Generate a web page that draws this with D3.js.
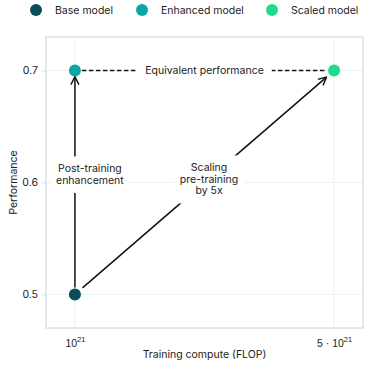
<!DOCTYPE html>
<html>
<head>
<meta charset="utf-8">
<script src="https://cdn.jsdelivr.net/npm/d3@7"></script>
<style>
  body { margin: 0; background: #fff; }
  svg { font-family: Inter, "Noto Sans", sans-serif; }
</style>
</head>
<body>
<div id="chart"></div>
<script>
// chart data
const seriesNames = ["Base model", "Enhanced model", "Scaled model"];
const seriesColors = ["#0b4c57", "#0aa6a6", "#1ddb8b"];
const compute = [1e21, 1e21, 5e21];
const performance = [0.5, 0.7, 0.7];
const xTickValues = [1e21, 5e21];
const xTickLabels = [["10", "21"], ["5 · 10", "21"]];
const yTickValues = [0.5, 0.6, 0.7];

const width = 374, height = 374;
const margin = { top: 37, right: 11, bottom: 46, left: 46 };

const svg = d3.select("#chart").append("svg")
    .attr("width", width)
    .attr("height", height);

// log x, padded a bit on both sides
const x = d3.scaleLog()
    .domain([1e21 / Math.pow(10, 0.078), 5e21 * Math.pow(10, 0.078)])
    .range([margin.left, width - margin.right]);

const y = d3.scaleLinear()
    .domain([0.47, 0.73])
    .range([height - margin.bottom, margin.top]);

const gridColor = "#e8f2f2";
const frameColor = "#d4e5e7";

// grid
svg.append("g").selectAll("line.gx")
    .data(xTickValues).enter().append("line")
    .attr("x1", d => x(d)).attr("x2", d => x(d))
    .attr("y1", margin.top).attr("y2", height - margin.bottom)
    .attr("stroke", gridColor);
svg.append("g").selectAll("line.gy")
    .data(yTickValues).enter().append("line")
    .attr("x1", margin.left).attr("x2", width - margin.right)
    .attr("y1", d => y(d)).attr("y2", d => y(d))
    .attr("stroke", gridColor);

// frame
svg.append("rect")
    .attr("x", margin.left).attr("y", margin.top)
    .attr("width", width - margin.left - margin.right)
    .attr("height", height - margin.top - margin.bottom)
    .attr("fill", "none")
    .attr("stroke", frameColor)
    .attr("stroke-width", 1.5);

// y axis
const yAxis = svg.append("g")
    .attr("transform", `translate(${margin.left},0)`)
    .call(d3.axisLeft(y).tickValues(yTickValues).tickFormat(d3.format(".1f")).tickSize(5).tickPadding(3));
yAxis.select(".domain").remove();
yAxis.selectAll(".tick line").attr("stroke", frameColor);
yAxis.selectAll(".tick text").attr("fill", "#222").style("font-size", "10.5px").style("font-family", "Inter, sans-serif");

// x axis
const xAxis = svg.append("g")
    .attr("transform", `translate(0,${height - margin.bottom})`)
    .call(d3.axisBottom(x).tickValues(xTickValues).tickFormat("").tickSize(0));
xAxis.select(".domain").remove();
xAxis.selectAll(".tick").each(function(d, i) {
  const t = d3.select(this).append("text")
      .attr("y", 19)
      .attr("text-anchor", "middle")
      .attr("fill", "#222")
      .style("font-size", "10.5px");
  t.append("tspan").text(xTickLabels[i][0]);
  t.append("tspan").attr("dy", -5).style("font-size", "7.5px").text(xTickLabels[i][1]);
});

// axis titles
svg.append("text")
    .attr("x", (margin.left + width - margin.right) / 2)
    .attr("y", 358)
    .attr("text-anchor", "middle")
    .attr("fill", "#222")
    .style("font-size", "10.5px")
    .text("Training compute (FLOP)");
svg.append("text")
    .attr("transform", `translate(17,${y(0.6)}) rotate(-90)`)
    .attr("text-anchor", "middle")
    .attr("fill", "#222")
    .style("font-size", "10.5px")
    .text("Performance");

// arrow marker
svg.append("defs").append("marker")
    .attr("id", "arrow")
    .attr("viewBox", "0 0 10 10")
    .attr("refX", 9).attr("refY", 5)
    .attr("markerWidth", 10).attr("markerHeight", 10)
    .attr("markerUnits", "userSpaceOnUse")
    .attr("orient", "auto")
  .append("path")
    .attr("d", "M1,1 L9,5 L1,9")
    .attr("fill", "none")
    .attr("stroke", "#111")
    .attr("stroke-width", 1.4);

const pts = compute.map((c, i) => ({ x: x(c), y: y(performance[i]) }));
const r = 6;

function shorten(a, b, s0, s1) {
  const dx = b.x - a.x, dy = b.y - a.y, L = Math.hypot(dx, dy);
  return [a.x + dx / L * s0, a.y + dy / L * s0, b.x - dx / L * s1, b.y - dy / L * s1];
}

// dashed equivalence line
let s = shorten(pts[1], pts[2], 7, 7);
svg.append("line")
    .attr("x1", s[0]).attr("y1", s[1]).attr("x2", s[2]).attr("y2", s[3])
    .attr("stroke", "#111").attr("stroke-width", 1.5)
    .attr("stroke-dasharray", "4.5,2.5");

// vertical arrow
s = shorten(pts[0], pts[1], 7, 6);
svg.append("line")
    .attr("x1", s[0]).attr("y1", s[1]).attr("x2", s[2]).attr("y2", s[3])
    .attr("stroke", "#111").attr("stroke-width", 1.5)
    .attr("marker-end", "url(#arrow)");

// diagonal arrow
s = shorten(pts[0], pts[2], 10, 10);
svg.append("line")
    .attr("x1", s[0]).attr("y1", s[1]).attr("x2", s[2]).attr("y2", s[3])
    .attr("stroke", "#111").attr("stroke-width", 1.5)
    .attr("marker-end", "url(#arrow)");

// annotation labels with white boxes
function label(cx, cy, lines, px, py) {
  const g = svg.append("g");
  const lh = 11.5;
  const t = g.append("text")
      .attr("text-anchor", "middle")
      .attr("fill", "#222")
      .style("font-size", "10.5px");
  lines.forEach((l, i) => {
    t.append("tspan").attr("x", cx)
      .attr("y", cy + (i - (lines.length - 1) / 2) * lh + 3.5)
      .text(l);
  });
  const bb = t.node().getBBox();
  g.insert("rect", "text")
      .attr("x", bb.x - px).attr("y", bb.y - py)
      .attr("width", bb.width + 2 * px).attr("height", bb.height + 2 * py)
      .attr("fill", "#fff");
}
label((pts[1].x + pts[2].x) / 2, pts[1].y, ["Equivalent performance"], 8, 3);
label(pts[0].x + 15, y(0.607), ["Post-training", "enhancement"], 4, 6);
label(x(2.3e21), y(0.6027), ["Scaling", "pre-training", "by 5x"], 6, 6);

// points
svg.append("g").selectAll("circle")
    .data(pts).enter().append("circle")
    .attr("cx", d => d.x).attr("cy", d => d.y)
    .attr("r", r)
    .attr("fill", (d, i) => seriesColors[i]);

// legend
const legendX = [36, 142, 272];
const legend = svg.append("g").selectAll("g")
    .data(seriesNames).enter().append("g")
    .attr("transform", (d, i) => `translate(${legendX[i]},10)`);
legend.append("circle").attr("r", 6).attr("fill", (d, i) => seriesColors[i]);
legend.append("text")
    .attr("x", 19).attr("y", 4)
    .attr("fill", "#222")
    .style("font-size", "10.5px")
    .text(d => d);
</script>
</body>
</html>
